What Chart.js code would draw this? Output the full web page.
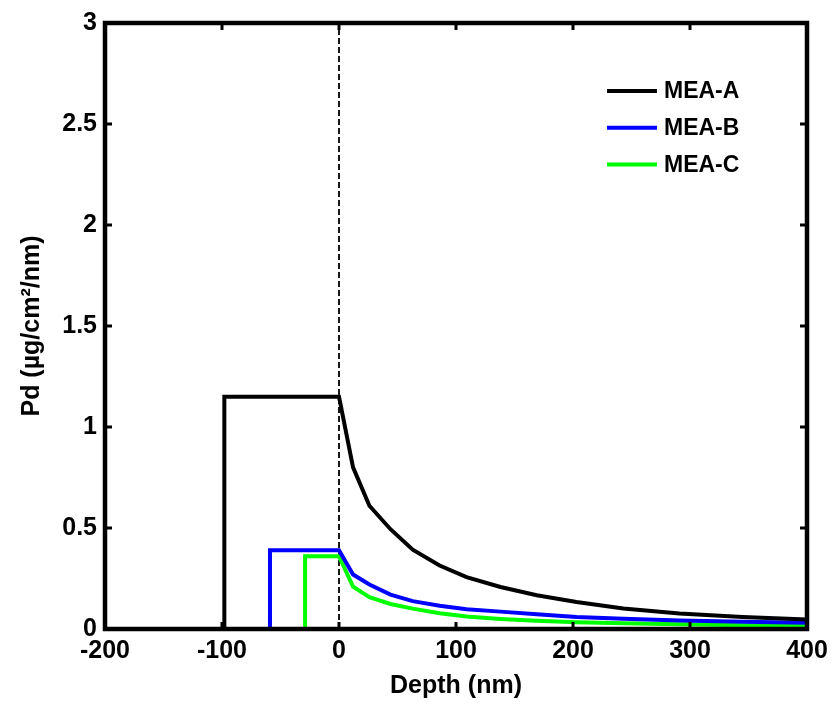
<!DOCTYPE html>
<html lang="en">
<head>
    <meta charset="UTF-8">
    <title>Pd depth profile</title>
    <style>
        body { margin: 0; background: #fff; }
        .chartBox { width: 837px; height: 706px; }
    </style>
</head>
<body>
    <div class="chartBox">
        <canvas id="pdChart" width="837" height="706"></canvas>
    </div>

    <script src="https://cdn.jsdelivr.net/npm/chart.js"></script>
    <script>
        // data
        const seriesNames = ['MEA-A', 'MEA-B', 'MEA-C'];
        const seriesColors = ['#000000', '#0000ff', '#00ff00'];

        const depthA = [-200, -98, -98, 0, 12, 26, 44, 63, 86, 109, 138, 169, 203, 243, 291, 345, 400];
        const pdA = [0, 0, 1.15, 1.15, 0.80, 0.61, 0.494, 0.393, 0.314, 0.257, 0.208, 0.167, 0.134, 0.101, 0.077, 0.060, 0.047];

        const depthB = [-200, -59, -59, 0, 12, 26, 44, 63, 86, 109, 138, 169, 203, 243, 291, 345, 400];
        const pdB = [0, 0, 0.39, 0.39, 0.27, 0.22, 0.17, 0.138, 0.115, 0.098, 0.086, 0.073, 0.060, 0.051, 0.042, 0.036, 0.031];

        const depthC = [-200, -29, -29, 0, 12, 26, 44, 63, 86, 109, 138, 169, 203, 243, 291, 345, 400];
        const pdC = [0, 0, 0.36, 0.36, 0.21, 0.158, 0.124, 0.101, 0.078, 0.062, 0.050, 0.041, 0.034, 0.029, 0.023, 0.019, 0.015];

        const interfaceX = [0, 0];
        const interfaceY = [0, 3];

        const xTicks = [-200, -100, 0, 100, 200, 300, 400];
        const yTicks = [0, 0.5, 1, 1.5, 2, 2.5, 3];

        const toPoints = (xs, ys) => xs.map((x, i) => ({ x: x, y: ys[i] }));
        const depths = [depthA, depthB, depthC];
        const values = [pdA, pdB, pdC];

        const datasets = seriesNames.map((name, i) => ({
            label: name,
            data: toPoints(depths[i], values[i]),
            borderColor: seriesColors[i],
            borderWidth: 4,
            pointRadius: 0,
            showLine: true,
            tension: 0
        }));
        // dashed line at the interface
        datasets.push({
            label: '',
            data: toPoints(interfaceX, interfaceY),
            borderColor: '#000000',
            borderWidth: 1.8,
            borderDash: [6, 3],
            pointRadius: 0,
            showLine: true
        });

        Chart.defaults.font.family = '"Liberation Sans", Arial, sans-serif';
        Chart.defaults.font.weight = 'bold';
        Chart.defaults.color = '#000';

        // matlab style box + inner ticks
        const boxPlugin = {
            id: 'boxPlugin',
            afterDatasetsDraw(chart) {
                const { ctx, chartArea: a, scales } = chart;
                ctx.save();
                ctx.strokeStyle = '#000';
                ctx.lineWidth = 3;
                xTicks.forEach(v => {
                    const px = scales.x.getPixelForValue(v);
                    ctx.beginPath();
                    ctx.moveTo(px, a.bottom); ctx.lineTo(px, a.bottom - 7);
                    ctx.moveTo(px, a.top); ctx.lineTo(px, a.top + 7);
                    ctx.stroke();
                });
                yTicks.forEach(v => {
                    const py = scales.y.getPixelForValue(v);
                    ctx.beginPath();
                    ctx.moveTo(a.left, py); ctx.lineTo(a.left + 7, py);
                    ctx.moveTo(a.right, py); ctx.lineTo(a.right - 7, py);
                    ctx.stroke();
                });
                ctx.lineWidth = 4.5;
                ctx.strokeRect(a.left, a.top, a.right - a.left, a.bottom - a.top);
                ctx.restore();
            }
        };

        // legend inside the plot, top right
        const insideLegend = {
            id: 'insideLegend',
            afterDraw(chart) {
                const { ctx, chartArea: a } = chart;
                ctx.save();
                ctx.font = 'bold 23px "Liberation Sans", Arial, sans-serif';
                ctx.textBaseline = 'middle';
                ctx.textAlign = 'left';
                chart.data.datasets.filter(d => d.label).forEach((d, i) => {
                    const y = a.top + 68 + i * 36.7;
                    const x0 = a.right - 200;
                    ctx.strokeStyle = d.borderColor;
                    ctx.lineWidth = 4;
                    ctx.beginPath();
                    ctx.moveTo(x0, y); ctx.lineTo(x0 + 50, y);
                    ctx.stroke();
                    ctx.fillStyle = '#000';
                    ctx.fillText(d.label, x0 + 57, y + 1);
                });
                ctx.restore();
            }
        };

        const cfg = {
            type: 'scatter',
            data: { datasets: datasets },
            options: {
                responsive: false,
                animation: false,
                layout: { padding: { left: 0, right: 30, top: 18, bottom: 0 } },
                plugins: {
                    legend: { display: false },
                    tooltip: { enabled: false }
                },
                scales: {
                    x: {
                        type: 'linear',
                        min: -200,
                        max: 400,
                        afterBuildTicks: s => { s.ticks = xTicks.map(v => ({ value: v })); },
                        afterFit: s => { s.height = 77; },
                        grid: { display: false, drawTicks: false },
                        border: { display: false },
                        ticks: {
                            padding: 7,
                            font: { size: 25, weight: 'bold' },
                            callback: v => String(v)
                        },
                        title: {
                            display: true,
                            text: 'Depth (nm)',
                            font: { size: 25, weight: 'bold' },
                            padding: { top: 0, bottom: 5 }
                        }
                    },
                    y: {
                        min: 0,
                        max: 3,
                        afterBuildTicks: s => { s.ticks = yTicks.map(v => ({ value: v })); },
                        afterFit: s => { s.width = 105; },
                        grid: { display: false, drawTicks: false },
                        border: { display: false },
                        ticks: {
                            padding: 8,
                            font: { size: 25, weight: 'bold' },
                            callback: v => String(v)
                        },
                        title: {
                            display: true,
                            text: 'Pd (µg/cm²/nm)',
                            font: { size: 25, weight: 'bold' },
                            padding: { top: 17, bottom: 0 }
                        }
                    }
                }
            },
            plugins: [boxPlugin, insideLegend]
        };

        const ctx = document.getElementById('pdChart');
        const pdChart = new Chart(ctx, cfg);
    </script>
</body>
</html>
